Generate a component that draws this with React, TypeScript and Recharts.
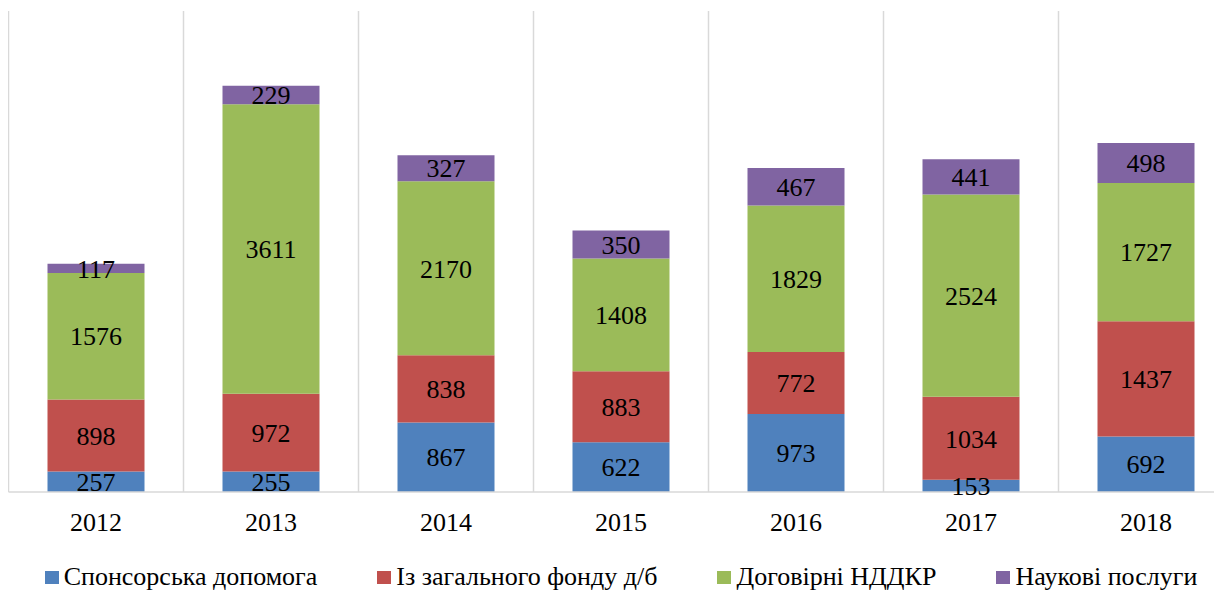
import React from 'react';
import {
    BarChart,
    Bar,
    XAxis,
    YAxis,
    CartesianGrid,
    Legend,
    LabelList
} from 'recharts';

const YEARS = ['2012', '2013', '2014', '2015', '2016', '2017', '2018'];
const SPONSOR = [257, 255, 867, 622, 973, 153, 692];
const BUDGET = [898, 972, 838, 883, 772, 1034, 1437];
const CONTRACT = [1576, 3611, 2170, 1408, 1829, 2524, 1727];
const SERVICES = [117, 229, 327, 350, 467, 441, 498];

const SERIES = [
    { key: 'sponsor', name: 'Спонсорська допомога', color: '#4F81BD' },
    { key: 'budget', name: 'Із загального фонду д/б', color: '#C0504D' },
    { key: 'contract', name: 'Договірні НДДКР', color: '#9BBB59' },
    { key: 'services', name: 'Наукові послуги', color: '#8064A2' }
];

const data = YEARS.map((year, i) => ({
    year,
    sponsor: SPONSOR[i],
    budget: BUDGET[i],
    contract: CONTRACT[i],
    services: SERVICES[i]
}));

const FONT = '"Liberation Serif", "Times New Roman", serif';

// chart sits at the body margin (8px); plot area runs past the right edge, like in the source
const CHART_W = 1214;
const CHART_H = 585;
const MARGIN = { top: 3, left: 0.5, right: -11.5, bottom: 61 };

const renderLegend = () => (
    <div
        style={{
            display: 'flex',
            justifyContent: 'center',
            alignItems: 'center',
            gap: 60,
            fontFamily: FONT,
            fontSize: 26,
            lineHeight: '30px',
            color: '#000'
        }}
    >
        {SERIES.map(s => (
            <div key={s.key} style={{ display: 'flex', alignItems: 'center' }}>
                <span
                    style={{
                        display: 'inline-block',
                        width: 14,
                        height: 13,
                        background: s.color,
                        marginRight: 5
                    }}
                />
                <span>{s.name}</span>
            </div>
        ))}
    </div>
);

export default function App() {
    return (
        <div style={{ width: CHART_W, height: CHART_H, background: '#fff' }}>
            <BarChart width={CHART_W} height={CHART_H} data={data} margin={MARGIN} barSize={97}>
                <CartesianGrid
                    horizontal={false}
                    stroke="#d9d9d9"
                    strokeWidth={1.5}
                    verticalCoordinatesGenerator={({ offset }: any) =>
                        Array.from({ length: YEARS.length + 1 }, (_, i) => offset.left + (i * offset.width) / YEARS.length)
                    }
                />
                <XAxis
                    dataKey="year"
                    height={40}
                    tickLine={false}
                    axisLine={{ stroke: '#d9d9d9', strokeWidth: 1.5 }}
                    tickMargin={15}
                    tick={{ fill: '#000', fontSize: 26, fontFamily: FONT }}
                />
                <YAxis hide domain={[0, 6000]} />
                <Legend
                    verticalAlign="middle"
                    content={renderLegend}
                    wrapperStyle={{ top: 554, left: 0.5, width: 1225 }}
                />
                {SERIES.map(s => (
                    <Bar key={s.key} dataKey={s.key} name={s.name} stackId="a" fill={s.color} isAnimationActive={false}>
                        <LabelList
                            dataKey={s.key}
                            position="center"
                            fill="#000"
                            fontSize={26}
                            fontFamily={FONT}
                        />
                    </Bar>
                ))}
            </BarChart>
        </div>
    );
}
